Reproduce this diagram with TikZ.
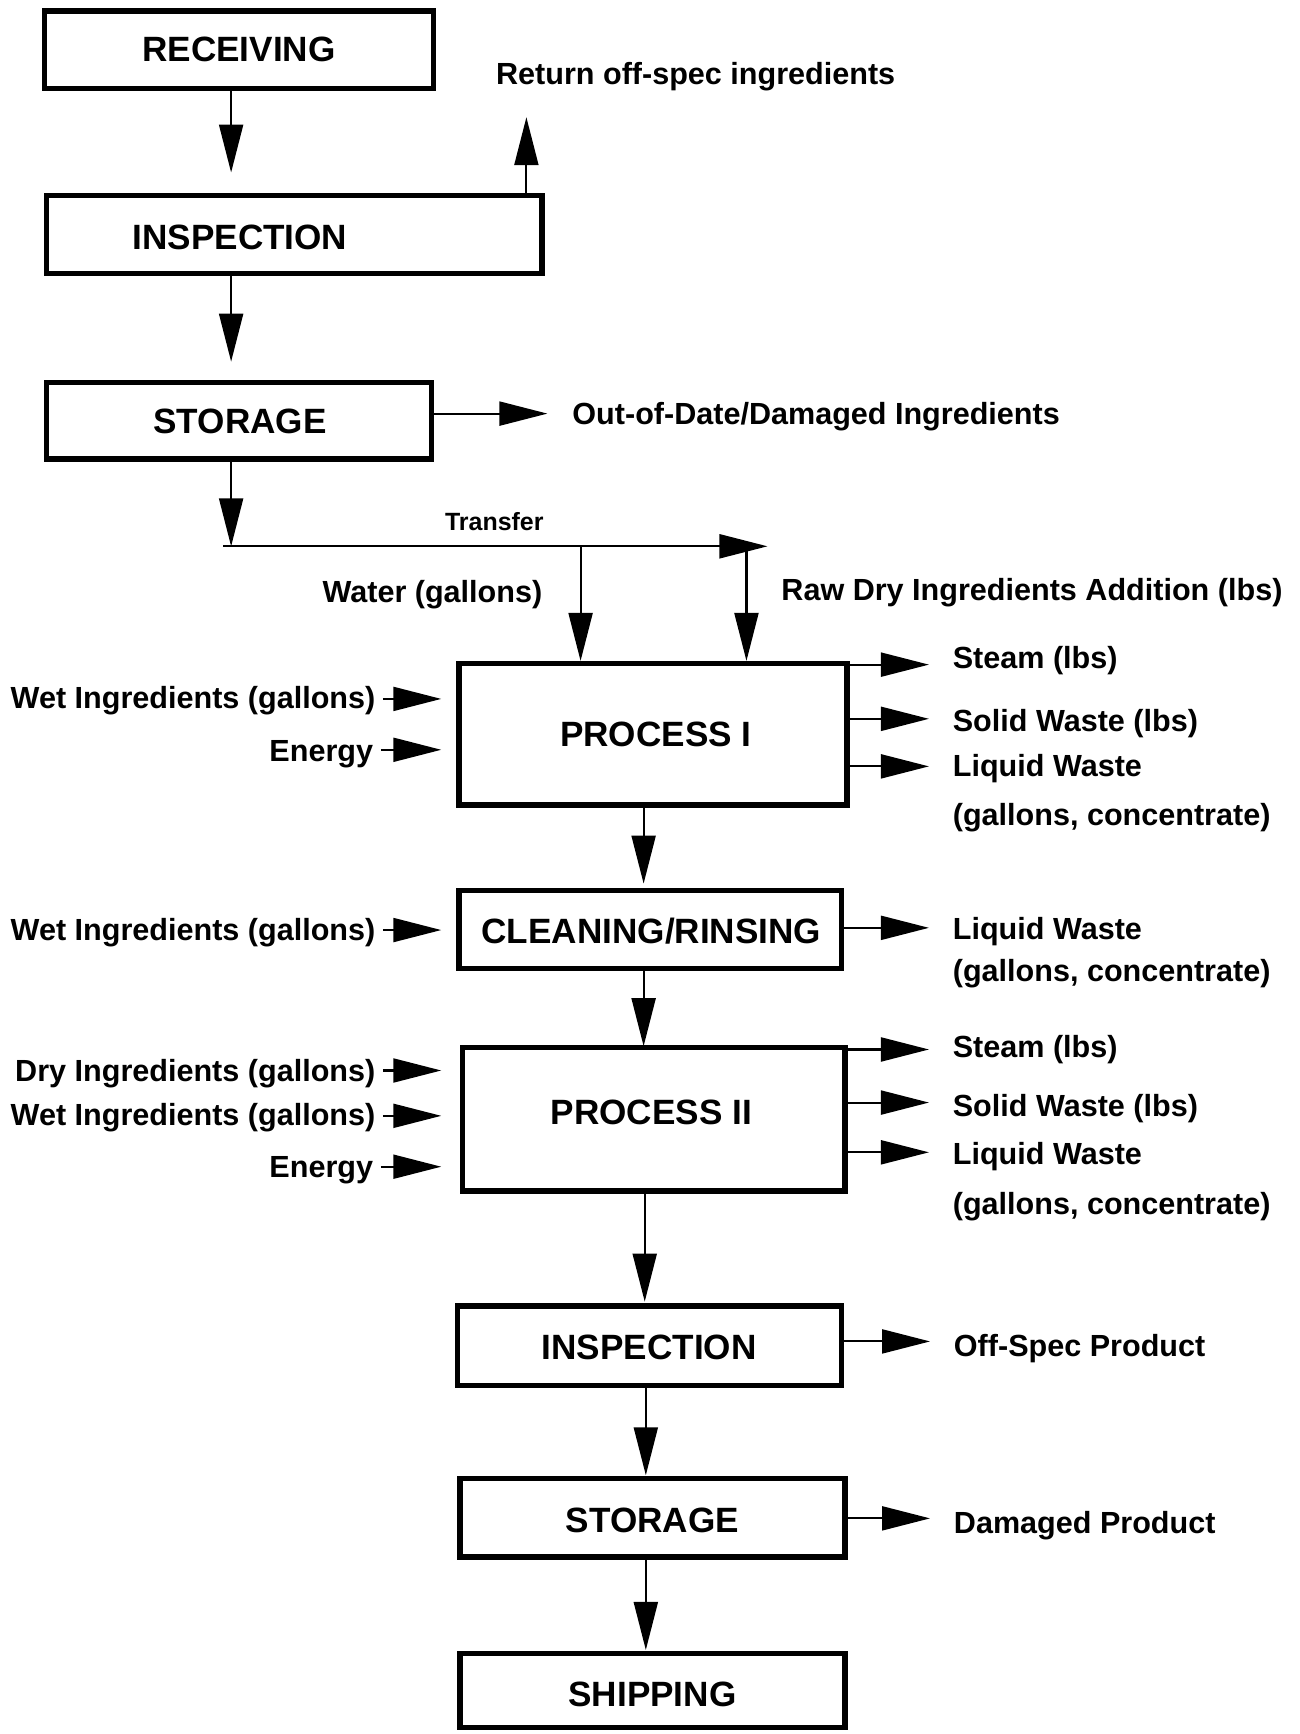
\documentclass[tikz,border=0pt]{standalone}
\usepackage{fontspec}
\setmainfont{Liberation Sans}
\usetikzlibrary{arrows.meta,fit}
\begin{document}
\begin{tikzpicture}[x=0.011055cm, y=-0.011055cm,
  box/.style={draw, line width=1.5pt, inner sep=0pt},
  btxt/.style={font=\fontsize{10}{12}\selectfont\bfseries, inner sep=0pt, text height=7.2pt, text depth=0pt},
  lbl/.style={font=\fontsize{8.7}{10}\selectfont\bfseries, inner sep=0pt, text height=6.2pt, text depth=0pt},
  smalllbl/.style={font=\fontsize{7.1}{8.5}\selectfont\bfseries, inner sep=0pt, text height=5.1pt, text depth=0pt},
  arr/.style={line width=0.6pt, -{Triangle[length=0.48cm, width=0.24cm]}},
  inarr/.style={arr, shorten <=0.07cm}
]
\useasboundingbox (0,0) rectangle (1175,1568);

% ---------- boxes ----------
\node[box, fit={(40,10) (392,80)}] (recv) {};
\node[btxt] (recvT) at (216,44) {RECEIVING};
\node[box, fit={(42,177) (490,247)}] (insp1) {};
\node[btxt] (insp1T) at (217,214) {INSPECTION};
\node[box, fit={(42,346) (390,415)}] (sto1) {};
\node[btxt] (sto1T) at (217,381) {STORAGE};
\node[box, fit={(415,600) (766,728)}] (p1) {};
\node[btxt] (p1T) at (593,664) {PROCESS I};
\node[box, fit={(415,805) (761,876)}] (clean) {};
\node[btxt] (cleanT) at (589,842) {CLEANING/RINSING};
\node[box, fit={(418,947) (764,1077)}] (p2) {};
\node[btxt] (p2T) at (589,1005) {PROCESS II};
\node[box, fit={(414,1181) (761,1253)}] (insp2) {};
\node[btxt] (insp2T) at (587,1218) {INSPECTION};
\node[box, fit={(416,1337) (764,1408)}] (sto2) {};
\node[btxt] (sto2T) at (590,1374) {STORAGE};
\node[box, fit={(416,1495) (764,1562)}] (ship) {};
\node[btxt] (shipT) at (590,1532) {SHIPPING};

% ---------- top labels ----------
\node[lbl, anchor=west] (retL) at (448,67) {Return off-spec ingredients};
\node[lbl, anchor=west] (oodL) at (517,374) {Out-of-Date/Damaged Ingredients};
\node[smalllbl] (trL) at (447,472) {Transfer};
\node[lbl, anchor=east] (watL) at (491,535) {Water (gallons)};
\node[lbl, anchor=west] (rawL) at (706,533) {Raw Dry Ingredients Addition (lbs)};

% ---------- left labels ----------
\node[lbl, anchor=east] (wet1) at (340,631) {Wet Ingredients (gallons)};
\node[lbl, anchor=east] (en1) at (338,679) {Energy};
\node[lbl, anchor=east] (wet2) at (340,841) {Wet Ingredients (gallons)};
\node[lbl, anchor=east] (dry3) at (340,968) {Dry Ingredients (gallons)};
\node[lbl, anchor=east] (wet3) at (340,1008) {Wet Ingredients (gallons)};
\node[lbl, anchor=east] (en3) at (338,1055) {Energy};

% ---------- right labels ----------
\node[lbl, anchor=west] (st1) at (861,595) {Steam (lbs)};
\node[lbl, anchor=west] (sw1) at (861,652) {Solid Waste (lbs)};
\node[lbl, anchor=west] (lw1) at (861,692) {Liquid Waste};
\node[lbl, anchor=west] (gc1) at (861,737) {(gallons, concentrate)};
\node[lbl, anchor=west] (lw2) at (861,840) {Liquid Waste};
\node[lbl, anchor=west] (gc2) at (861,878) {(gallons, concentrate)};
\node[lbl, anchor=west] (st3) at (861,946) {Steam (lbs)};
\node[lbl, anchor=west] (sw3) at (861,1000) {Solid Waste (lbs)};
\node[lbl, anchor=west] (lw3) at (861,1043) {Liquid Waste};
\node[lbl, anchor=west] (gc3) at (861,1088) {(gallons, concentrate)};
\node[lbl, anchor=west] (osp) at (862,1217) {Off-Spec Product};
\node[lbl, anchor=west] (dmp) at (862,1377) {Damaged Product};

% ---------- coordinates ----------
\coordinate (a1) at (209,156);
\coordinate (a2) at (209,327);
\coordinate (a3) at (209,494);
\coordinate (tl) at (202,494);
\coordinate (tr) at (694,494);
\coordinate (wtop) at (525,494);
\coordinate (rtop) at (675,494);
\coordinate (ret) at (476,106);
\coordinate (so) at (495,374);
\coordinate (b1) at (582,799);
\coordinate (b2) at (582,946);
\coordinate (b3) at (583,1177);
\coordinate (b4) at (584,1334);
\coordinate (b5) at (584,1492);
\coordinate (r1) at (840,601);
\coordinate (r2) at (840,650);
\coordinate (r3) at (840,693);
\coordinate (r4) at (840,839);
\coordinate (r5) at (840,949);
\coordinate (r6) at (840,997);
\coordinate (r7) at (840,1042);
\coordinate (r8) at (841,1213);
\coordinate (r9) at (841,1373);
\coordinate (l1) at (399,632);
\coordinate (l2) at (399,678);
\coordinate (l3) at (399,841);
\coordinate (l4) at (399,968);
\coordinate (l5) at (399,1009);
\coordinate (l6) at (399,1055);

% ---------- main flow ----------
\draw[arr] (recv.south -| a1) -- (a1);
\draw[arr] (insp1.south -| a2) -- (a2);
\draw[arr] (sto1.south -| a3) -- (a3);
\draw[arr] (tl) -- (tr);
\draw[arr] (wtop) -- (p1.north -| wtop);
\draw[arr] (rtop) -- (p1.north -| rtop);
\draw[arr] (insp1.north -| ret) -- (ret);
\draw[arr] (sto1.east |- so) -- (so);
\draw[arr] (p1.south -| b1) -- (b1);
\draw[arr] (clean.south -| b2) -- (b2);
\draw[arr] (p2.south -| b3) -- (b3);
\draw[arr] (insp2.south -| b4) -- (b4);
\draw[arr] (sto2.south -| b5) -- (b5);

% ---------- outputs ----------
\draw[arr] (p1.east |- r1) -- (r1);
\draw[arr] (p1.east |- r2) -- (r2);
\draw[arr] (p1.east |- r3) -- (r3);
\draw[arr] (clean.east |- r4) -- (r4);
\draw[arr] (p2.east |- r5) -- (r5);
\draw[arr] (p2.east |- r6) -- (r6);
\draw[arr] (p2.east |- r7) -- (r7);
\draw[arr] (insp2.east |- r8) -- (r8);
\draw[arr] (sto2.east |- r9) -- (r9);

% ---------- inputs ----------
\draw[inarr] (wet1.east |- l1) -- (l1);
\draw[inarr] (en1.east |- l2) -- (l2);
\draw[inarr] (wet2.east |- l3) -- (l3);
\draw[inarr] (dry3.east |- l4) -- (l4);
\draw[inarr] (wet3.east |- l5) -- (l5);
\draw[inarr] (en3.east |- l6) -- (l6);
\end{tikzpicture}
\end{document}
